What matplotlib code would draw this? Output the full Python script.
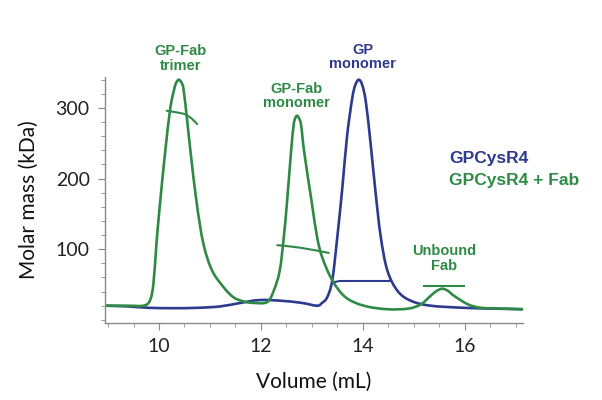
#!/usr/bin/env python3

import matplotlib
matplotlib.use('Agg')
import matplotlib.pyplot as plt
from matplotlib.ticker import MultipleLocator
from matplotlib.path import Path
from matplotlib.patches import PathPatch

# GPCysR4 alone (blue trace)
blue_vol = [8.94, 9.4, 9.8, 10.3, 10.75, 11.2, 11.6, 11.97, 12.4, 12.8, 13.1, 13.2,
            13.3, 13.4, 13.5, 13.6, 13.69, 13.79, 13.85, 13.92, 13.99, 14.06, 14.15,
            14.25, 14.35, 14.48, 14.68, 14.94, 15.33, 15.99, 16.5, 17.14]
blue_sig = [20, 19, 17, 16.5, 17, 19, 24, 28, 27, 24, 20, 24,
            32, 56, 118, 189, 260, 313, 332, 340, 332, 308, 251,
            180, 118, 70, 41, 27, 20, 17, 16, 15]

# GPCysR4 + Fab (green trace)
green_vol = [8.94, 9.4, 9.69, 9.82, 9.89, 9.95, 10.02, 10.12, 10.22, 10.30, 10.34, 10.39,
             10.44, 10.48, 10.55, 10.62, 10.74, 10.87, 11.04, 11.27, 11.46, 11.66, 11.85,
             12.12, 12.25, 12.37, 12.45, 12.51, 12.59, 12.64, 12.67, 12.71, 12.75, 12.79,
             12.85, 13.0, 13.1, 13.2, 13.4, 13.66, 14.02, 14.48, 14.9, 15.14, 15.33, 15.45,
             15.56, 15.67, 15.79, 16.06, 16.32, 16.7, 17.14]
green_sig = [20, 20, 20, 27, 51, 108, 165, 237, 299, 327, 336, 340,
             336, 327, 284, 237, 165, 108, 70, 46, 32, 26, 24,
             25, 41, 70, 118, 165, 237, 275, 285, 289, 285, 275,
             237, 165, 118, 89, 56, 32, 20, 15, 16, 22, 34, 41,
             44, 41, 34, 22, 17, 16, 15]

# molar mass fits across peaks
trimer_vol = [10.15, 10.35, 10.51, 10.64, 10.75]
trimer_mass = [296, 293.6, 291, 285, 277]
gpfab_vol = [12.32, 12.78, 13.33]
gpfab_mass = [105.7, 102, 94.8]
gp_vol = [13.46, 13.55, 14.55]
gp_mass = [53.8, 55, 55]
fab_vol = [15.2, 15.99]
fab_mass = [47.3, 47.3]

green = '#2f8a45'
blue = '#2d3a8e'


def smooth_curve(ax, xs, ys, color, lw):
    # draw a smooth bezier path through the given points
    n = len(xs)
    verts = [(xs[0], ys[0])]
    codes = [Path.MOVETO]
    for i in range(n - 1):
        x0, y0 = (xs[i - 1], ys[i - 1]) if i > 0 else (xs[i], ys[i])
        x1, y1 = xs[i], ys[i]
        x2, y2 = xs[i + 1], ys[i + 1]
        x3, y3 = (xs[i + 2], ys[i + 2]) if i + 2 < n else (x2, y2)
        c1 = (x1 + (x2 - x0) / 6, y1 + (y2 - y0) / 6)
        c2 = (x2 - (x3 - x1) / 6, y2 - (y3 - y1) / 6)
        verts += [c1, c2, (x2, y2)]
        codes += [Path.CURVE4] * 3
    ax.add_patch(PathPatch(Path(verts, codes), facecolor='none', edgecolor=color,
                           lw=lw, capstyle='round', joinstyle='round'))


fig = plt.figure(figsize=(6.02, 4.00), dpi=100)
ax = fig.add_axes([0.1744, 0.193, 0.695, 0.614])

smooth_curve(ax, blue_vol, blue_sig, blue, 1.9)
smooth_curve(ax, green_vol, green_sig, green, 1.9)
smooth_curve(ax, trimer_vol, trimer_mass, green, 1.5)
smooth_curve(ax, gpfab_vol, gpfab_mass, green, 1.5)
ax.plot(gp_vol, gp_mass, color=blue, lw=1.5)
ax.plot(fab_vol, fab_mass, color=green, lw=1.5)

ax.set_xlim(8.94, 17.15)
ax.set_ylim(-4.2, 343.5)
ax.spines['top'].set_visible(False)
ax.spines['right'].set_visible(False)
for s in ['left', 'bottom']:
    ax.spines[s].set_color('#8a8a8a')
    ax.spines[s].set_linewidth(1.0)

ax.xaxis.set_major_locator(MultipleLocator(2))
ax.xaxis.set_minor_locator(MultipleLocator(0.5))
ax.yaxis.set_major_locator(MultipleLocator(100))
ax.yaxis.set_minor_locator(MultipleLocator(20))
ax.set_yticks([100, 200, 300])
ax.tick_params(which='major', length=5, color='#8a8a8a', labelsize=14, pad=6)
ax.tick_params(which='minor', length=3, color='#8a8a8a')
for lab in ax.get_xticklabels() + ax.get_yticklabels():
    lab.set_family('Lato')
    lab.set_color('#222222')

ax.set_xlabel('Volume (mL)', fontsize=15, family='Lato', color='#111111', labelpad=12)
ax.set_ylabel('Molar mass (kDa)', fontsize=15, family='Lato', color='#111111', labelpad=12)

bold = dict(family='Liberation Sans', weight='bold', fontsize=10.5,
            ha='center', va='center', linespacing=1.05, clip_on=False)
ax.text(10.43, 370, 'GP-Fab\ntrimer', color=green, **bold)
ax.text(12.70, 317, 'GP-Fab\nmonomer', color=green, **bold)
ax.text(14.0, 372, 'GP\nmonomer', color=blue, **bold)
ax.text(15.59, 86.6, 'Unbound\nFab', color=green, **bold)

ax.text(15.69, 229, 'GPCysR4', color=blue, family='Liberation Sans',
        weight='bold', fontsize=12.5, ha='left', va='center')
ax.text(15.69, 197, 'GPCysR4 + Fab', color=green, family='Liberation Sans',
        weight='bold', fontsize=12.5, ha='left', va='center')

plt.savefig('out.png', dpi=100)
plt.close(fig)
